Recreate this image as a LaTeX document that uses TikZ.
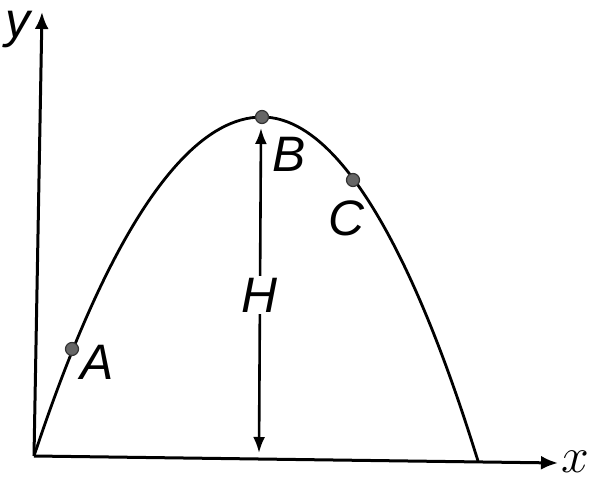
\RequirePackage{fix-cm}
\documentclass[tikz,border=0pt]{standalone}
\usepackage{fontspec}
\setsansfont{Liberation Sans}
\usetikzlibrary{arrows.meta}
\tikzset{
  axis/.style={line width=3bp,-{Latex[length=17bp,width=14bp]}},
  curve/.style={line width=2.8bp},
  height/.style={line width=2.6bp,{Latex[length=16bp,width=12bp]}-{Latex[length=16bp,width=12bp]}},
  dot/.style={circle,fill=black!60,draw=black!80,line width=1.2bp,inner sep=0pt,minimum size=13bp},
  letter/.style={font=\fontsize{50}{50}\selectfont\sffamily\itshape,inner sep=0pt}
}
\begin{document}
\begin{tikzpicture}[x=1bp,y=-1bp]
  \useasboundingbox (0,0) rectangle (593,485);
  % axes
  \coordinate (O) at (34,456);
  \coordinate (yEnd) at (42,12);
  \coordinate (xEnd) at (558,463);
  \draw[axis] (O) -- (yEnd);
  \draw[axis] (O) -- (xEnd);
  \node[letter] (yLabel) at (18,30) {y};
  \node[font=\fontsize{50}{50}\selectfont,inner sep=0pt] (xLabel) at (575,462) {$x$};

  % trajectory
  \coordinate (top) at (262,117);
  \coordinate (land) at (478,461);
  \draw[curve] (O) parabola bend (top) (land);

  % points
  \node[dot] (A) at (72,349) {};
  \node[dot] (B) at (top) {};
  \node[dot] (C) at (353,180) {};
  \node[letter] (Alabel) at (97,362) {A};
  \node[letter] (Blabel) at (289,154) {B};
  \node[letter] (Clabel) at (346,218) {C};

  % maximum height
  \coordinate (Hbot) at (259,453);
  \coordinate (Htop) at (261,128);
  \draw[height] (Hbot) -- (Htop);
  \node[letter,fill=white,inner sep=2bp] (Hlabel) at (259,295) {H};
\end{tikzpicture}
\end{document}
